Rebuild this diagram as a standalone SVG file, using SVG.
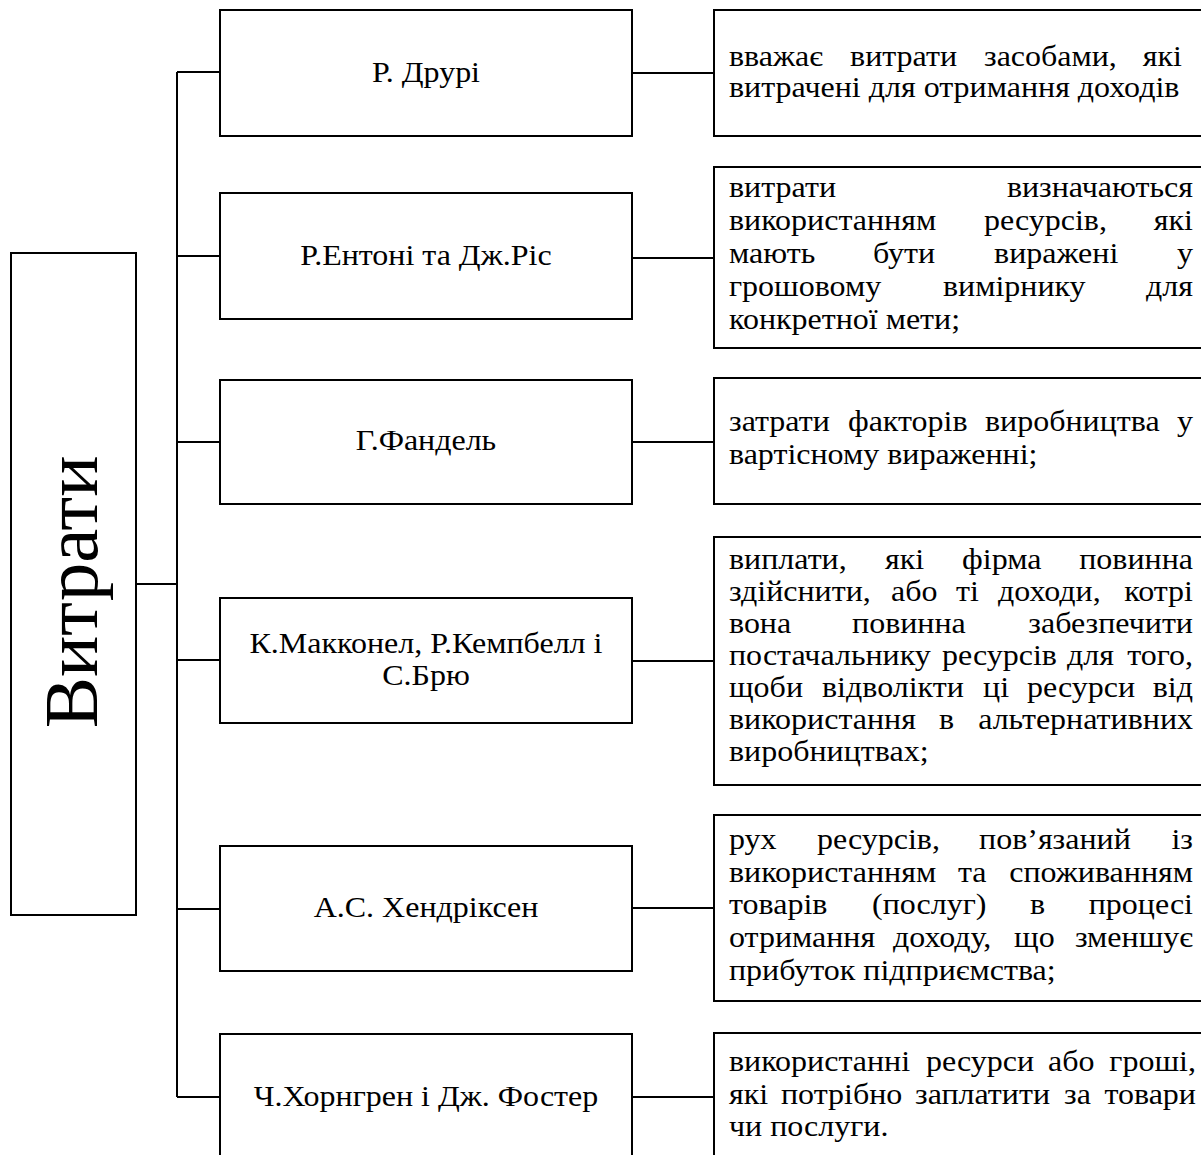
<svg xmlns="http://www.w3.org/2000/svg" width="1201" height="1155" viewBox="0 0 1201 1155">
<style>
.b{fill:#fff;stroke:#000;stroke-width:2}
.ln{fill:none;stroke:#000;stroke-width:2}
text{font-family:"Liberation Serif","Times New Roman",serif;font-size:29px;fill:#000}
.m{text-anchor:middle}
.e{text-anchor:end}
.big{font-size:77px}
</style>
<rect width="1201" height="1155" fill="#fff"/>
<g id="connectors">
<path class="ln" d="M136 584H177M177 72V1097M177 72H220M177 256H220M177 442H220M177 660H220M177 909H220M177 1097H220"/>
<path class="ln" d="M632 73H714M632 258H714M632 442H714M632 661H714M632 908H714M632 1097H714"/>
</g>
<g id="root">
<rect class="b" x="11" y="253" width="125" height="662"/>
<text class="big m" x="97" y="592" transform="rotate(-90 97 592)">Витрати</text>
</g>
<g id="n1">
<rect class="b" x="220" y="10" width="412" height="126"/>
<text class="m" x="426" y="82" transform="matrix(1.10345 0 0 1 -44.07 0)">Р. Друрі</text>
</g>
<g id="n2">
<rect class="b" x="220" y="193" width="412" height="126"/>
<text class="m" x="426" y="265" transform="matrix(1.10345 0 0 1 -44.07 0)">Р.Ентоні та Дж.Ріс</text>
</g>
<g id="n3">
<rect class="b" x="220" y="380" width="412" height="124"/>
<text class="m" x="426" y="450" transform="matrix(1.10345 0 0 1 -44.07 0)">Г.Фандель</text>
</g>
<g id="n4">
<rect class="b" x="220" y="598" width="412" height="125"/>
<g transform="matrix(1.10345 0 0 1 -44.07 0)">
<text class="m" x="426" y="653">К.Макконел, Р.Кемпбелл і</text>
<text class="m" x="426" y="685">С.Брю</text>
</g>
</g>
<g id="n5">
<rect class="b" x="220" y="846" width="412" height="125"/>
<text class="m" x="426" y="917" transform="matrix(1.10345 0 0 1 -44.07 0)">А.С. Хендріксен</text>
</g>
<g id="n6">
<rect class="b" x="220" y="1034" width="412" height="140"/>
<text class="m" x="426" y="1106" transform="matrix(1.10345 0 0 1 -44.07 0)">Ч.Хорнгрен і Дж. Фостер</text>
</g>
<g id="d1">
<rect class="b" x="714" y="10" width="500" height="126"/>
<g transform="matrix(1.10345 0 0 1 -75.41 0)">
<text y="66"><tspan x="729">вважає</tspan><tspan x="838.7">витрати</tspan><tspan x="960.1">засобами,</tspan></text>
<text class="e" x="1139.5" y="66">які</text>
<text x="729" y="97">витрачені для отримання доходів</text>
</g>
</g>
<g id="d2">
<rect class="b" x="714" y="167" width="500" height="181"/>
<g transform="matrix(1.10345 0 0 1 -75.41 0)">
<text x="729" y="197">витрати</text><text class="e" x="1149.5" y="197">визначаються</text>
<text y="230"><tspan x="729">використанням</tspan><tspan x="960.1">ресурсів,</tspan></text><text class="e" x="1149.5" y="230">які</text>
<text y="263"><tspan x="729">мають</tspan><tspan x="859.5">бути</tspan><tspan x="969.2">виражені</tspan></text><text class="e" x="1149.5" y="263">у</text>
<text y="296"><tspan x="729">грошовому</tspan><tspan x="922.9">вимірнику</tspan></text><text class="e" x="1149.5" y="296">для</text>
<text x="729" y="329">конкретної мети;</text>
</g>
</g>
<g id="d3">
<rect class="b" x="714" y="378" width="500" height="126"/>
<g transform="matrix(1.10345 0 0 1 -75.41 0)">
<text y="431"><tspan x="729">затрати</tspan><tspan x="836.8">факторів</tspan><tspan x="961">виробництва</tspan></text><text class="e" x="1149.5" y="431">у</text>
<text x="729" y="464">вартісному вираженні;</text>
</g>
</g>
<g id="d4">
<rect class="b" x="714" y="537" width="500" height="248"/>
<g transform="matrix(1.10345 0 0 1 -75.41 0)">
<text y="569"><tspan x="729">виплати,</tspan><tspan x="870.4">які</tspan><tspan x="940.2">фірма</tspan></text><text class="e" x="1149.5" y="569">повинна</text>
<text y="601"><tspan x="729">здійснити,</tspan><tspan x="875.8">або</tspan><tspan x="934.7">ті</tspan><tspan x="972.8">доходи,</tspan></text><text class="e" x="1149.5" y="601">котрі</text>
<text y="633"><tspan x="729">вона</tspan><tspan x="840.5">повинна</tspan></text><text class="e" x="1149.5" y="633">забезпечити</text>
<text y="665"><tspan x="729">постачальнику</tspan><tspan x="922">ресурсів</tspan><tspan x="1035.3">для</tspan></text><text class="e" x="1149.5" y="665">того,</text>
<text y="697"><tspan x="729">щоби</tspan><tspan x="813.3">відволікти</tspan><tspan x="959.2">ці</tspan><tspan x="999.1">ресурси</tspan></text><text class="e" x="1149.5" y="697">від</text>
<text y="729"><tspan x="729">використання</tspan><tspan x="919.3">в</tspan></text><text class="e" x="1149.5" y="729">альтернативних</text>
<text x="729" y="761">виробництвах;</text>
</g>
</g>
<g id="d5">
<rect class="b" x="714" y="815" width="500" height="186"/>
<g transform="matrix(1.10345 0 0 1 -75.41 0)">
<text y="849"><tspan x="729">рух</tspan><tspan x="808.8">ресурсів,</tspan><tspan x="955.6">пов’язаний</tspan></text><text class="e" x="1149.5" y="849">із</text>
<text y="882"><tspan x="729">використанням</tspan><tspan x="936.5">та</tspan></text><text class="e" x="1149.5" y="882">споживанням</text>
<text y="914"><tspan x="729">товарів</tspan><tspan x="858.6">(послуг)</tspan><tspan x="1001.8">в</tspan></text><text class="e" x="1149.5" y="914">процесі</text>
<text y="947"><tspan x="729">отримання</tspan><tspan x="877.6">доходу,</tspan><tspan x="987.3">що</tspan></text><text class="e" x="1149.5" y="947">зменшує</text>
<text x="729" y="980">прибуток підприємства;</text>
</g>
</g>
<g id="d6">
<rect class="b" x="714" y="1033" width="500" height="140"/>
<g transform="matrix(1.10345 0 0 1 -75.41 0)">
<text y="1071"><tspan x="729">використанні</tspan><tspan x="907.5">ресурси</tspan><tspan x="1018.1">або</tspan></text><text class="e" x="1152.2" y="1071">гроші,</text>
<text y="1104"><tspan x="729">які</tspan><tspan x="776.1">потрібно</tspan><tspan x="897.6">заплатити</tspan><tspan x="1032.6">за</tspan></text><text class="e" x="1152.2" y="1104">товари</text>
<text x="729" y="1136">чи послуги.</text>
</g>
</g>
</svg>
